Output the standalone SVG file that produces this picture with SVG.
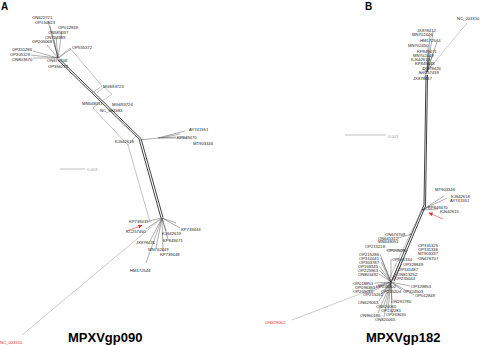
<svg xmlns="http://www.w3.org/2000/svg" width="480" height="345" viewBox="0 0 480 345">
<defs>
<style>
.lbl{font-family:"Liberation Sans",Arial,sans-serif;font-size:4.2px;fill:#222}
.red{fill:#e0302f}
.gray{fill:#999}
.ttl{font-family:"Liberation Sans",Arial,sans-serif;font-size:13px;font-weight:bold;fill:#000}
.pnl{font-family:"Liberation Sans",Arial,sans-serif;font-size:10px;font-weight:bold;fill:#000}
.ray{stroke:#333;stroke-width:0.4;fill:none}
.net{stroke:#888;stroke-width:0.5;fill:none}
.trk{stroke:#111;stroke-width:0.8;fill:none}
.sb{stroke:#999;stroke-width:0.6;fill:none}
.rl{stroke:#999;stroke-width:0.5;fill:none}
.arr{stroke:#e0302f;stroke-width:0.6;fill:none}
</style>
<marker id="ah" viewBox="0 0 10 10" refX="9" refY="5" markerUnits="userSpaceOnUse" markerWidth="4" markerHeight="4" orient="auto"><path d="M0,0L10,5L0,10z" fill="#e0302f"/></marker>
</defs>
<rect width="480" height="345" fill="#fff"/>

<g id="connectors">
<!-- Panel A trunk -->
<polyline class="trk" points="58,60 139,139 161,218"/>
<polyline class="trk" points="59.5,59 141,138.5 163,217.5"/>
<!-- Panel A network boxes -->
<polyline class="net" points="58,58 70,48 102,86 92,93"/>
<polyline class="net" points="97,93 104,87 112,94 104,100"/>
<polyline class="net" points="100,102 93,108 128,145 136,136"/>
<polyline class="net" points="128,145 150,222"/>
<!-- Panel A top fan -->
<path class="ray" d="M58,58L48,21M58,58L50,26M58,58L62,31M58,58L56,36M58,58L54,40M58,58L47,45M58,58L33,51M58,58L31,55M58,58L33,58M58,58L71,49"/>
<!-- Panel A right fan -->
<path class="ray" d="M140,140L158,138L185,131M158,138L176,137M158,138L187,138M162,137.5L180,134"/>
<!-- Panel A bottom fan -->
<path class="ray" d="M162,218L149,221M162,218L146,229M162,218L180,228M162,218L176,223M162,218L166,231M162,218L168,239M162,218L150,241M162,218L156,248M162,218L163,252M162,218L146,263"/>
<path class="rl" d="M162,218L22,335"/>
<line class="arr" x1="127" y1="231" x2="142" y2="225.5" marker-end="url(#ah)"/>
<line class="sb" x1="60" y1="169" x2="85" y2="169"/>

<!-- Panel B trunk -->
<polyline class="trk" points="426,75 424,205 392,280"/>
<polyline class="trk" points="427.5,75 425.5,206 394,281"/>
<polyline class="net" points="423,207 389,279"/>
<path class="rl" d="M428,70L467,23"/>
<!-- Panel B top fan -->
<path class="ray" d="M427,72L433,32M427,72L430,36M427,72L437,42M427,72L428,47M427,72L433,53M427,72L430,56M427,72L428,60M427,72L432,64M427,72L422,68M427,72L420,73M427,72L424,79"/>
<!-- Panel B right fan -->
<path class="ray" d="M422,210L444,196M422,210L447,198M422,210L430,206M422,210L438,209"/>
<line class="arr" x1="443" y1="219" x2="429" y2="213" marker-end="url(#ah)"/>
<line class="sb" x1="345" y1="135" x2="386" y2="135"/>
<!-- Panel B bottom fan -->
<path class="ray" d="M391,282L380,254M391,282L381,258M391,282L381,262M391,282L379,266M391,282L379,270M391,282L379,274M391,282L374,283M391,282L376,287M391,282L373,291M391,282L381,294M391,282L379,301M391,282L391,259M391,282L402,264M391,282L397,269M391,282L396,274M391,282L394,278M391,282L410,286M391,282L402,290M391,282L414,295M391,282L392,300M391,282L385,290M391,282L378,285M391,282L384,305M391,282L388,309M391,282L392,313M391,282L378,313M391,282L384,317M405,250L386,250M412,234L398,238"/>
<path class="rl" d="M391,282L292,320"/>
</g>

<g id="panel-A">
<text class="pnl" x="1" y="10">A</text>
<g id="a-ON622721"><text class="lbl" x="32" y="19">ON622721</text></g>
<g id="a-OP150923"><text class="lbl" x="35" y="24">OP150923</text></g>
<g id="a-OP012849"><text class="lbl" x="58" y="29">OP012849</text></g>
<g id="a-ON585037"><text class="lbl" x="48" y="34">ON585037</text></g>
<g id="a-ON754989"><text class="lbl" x="45" y="38.5">ON754989</text></g>
<g id="a-OP205068"><text class="lbl" x="32" y="43">OP205068</text></g>
<g id="a-OP555372"><text class="lbl" x="72" y="48.5">OP555372</text></g>
<g id="a-OP351286"><text class="lbl" x="12" y="50.5">OP351286</text></g>
<g id="a-OP205129"><text class="lbl" x="10" y="55.5">OP205129</text></g>
<g id="a-ON803670"><text class="lbl" x="12" y="60.5">ON803670</text></g>
<g id="a-ON676708"><text class="lbl" x="47" y="61.5">ON676708</text></g>
<g id="a-OP356279"><text class="lbl" x="48" y="67.5">OP356279</text></g>
<g id="a-MG693723"><text class="lbl" x="103" y="87.5">MG693723</text></g>
<g id="a-MN648051"><text class="lbl" x="82" y="104.5">MN648051</text></g>
<g id="a-MG693724"><text class="lbl" x="112" y="105.5">MG693724</text></g>
<g id="a-NC_063383"><text class="lbl" x="100" y="111.5">NC_063383</text></g>
<g id="a-AY741551"><text class="lbl" x="189" y="130.5">AY741551</text></g>
<g id="a-KP849470"><text class="lbl" x="177" y="138.5">KP849470</text></g>
<g id="a-MT903346"><text class="lbl" x="193" y="144.5">MT903346</text></g>
<g id="a-KJ642618"><text class="lbl" x="115" y="142.5">KJ642618</text></g>
<g id="a-scale"><text class="lbl gray" x="87" y="171">0.001</text></g>
<g id="a-KP739439"><text class="lbl" x="129" y="222.5">KP739439</text></g>
<g id="a-KC257460"><text class="lbl" x="126" y="232.5">KC257460</text></g>
<g id="a-KP739443"><text class="lbl" x="181" y="230.5">KP739443</text></g>
<g id="a-KJ642619"><text class="lbl" x="162" y="234.5">KJ642619</text></g>
<g id="a-JX878426"><text class="lbl" x="136" y="243.5">JX878426</text></g>
<g id="a-KP849471"><text class="lbl" x="163" y="241.5">KP849471</text></g>
<g id="a-MN702449"><text class="lbl" x="148" y="250.5">MN702449</text></g>
<g id="a-KP739448"><text class="lbl" x="160" y="255.5">KP739448</text></g>
<g id="a-HM172544"><text class="lbl" x="130" y="271.5">HM172544</text></g>
<g id="a-NC_003310"><text class="lbl red" x="0" y="343.5">NC_003310</text></g>
<text class="ttl" x="68" y="342">MPXVgp090</text>
</g>

<g id="panel-B">
<text class="pnl" x="365" y="10">B</text>
<g id="b-NC_003310"><text class="lbl" x="457" y="19.5">NC_003310</text></g>
<g id="b-JX878412"><text class="lbl" x="417" y="32">JX878412</text></g>
<g id="b-MN702446"><text class="lbl" x="412" y="36">MN702446</text></g>
<g id="b-HM172544"><text class="lbl" x="420" y="41.5">HM172544</text></g>
<g id="b-MN702450"><text class="lbl" x="408" y="47">MN702450</text></g>
<g id="b-KP849471"><text class="lbl" x="417" y="53">KP849471</text></g>
<g id="b-MN702449"><text class="lbl" x="413" y="56.5">MN702449</text></g>
<g id="b-KJ642619"><text class="lbl" x="411" y="60.5">KJ642619</text></g>
<g id="b-KP849448"><text class="lbl" x="415" y="65">KP849448</text></g>
<g id="b-JX878426"><text class="lbl" x="422" y="69.5">JX878426</text></g>
<g id="b-KC257459"><text class="lbl" x="419" y="74">KC257459</text></g>
<g id="b-JX878417"><text class="lbl" x="413" y="80">JX878417</text></g>
<g id="b-scale"><text class="lbl gray" x="388" y="137.5">0.001</text></g>
<g id="b-MT903346"><text class="lbl" x="435" y="190.5">MT903346</text></g>
<g id="b-KJ642618"><text class="lbl" x="451" y="198">KJ642618</text></g>
<g id="b-AY741551"><text class="lbl" x="450" y="201.5">AY741551</text></g>
<g id="b-KP849470"><text class="lbl" x="428" y="208.5">KP849470</text></g>
<g id="b-KJ642615"><text class="lbl" x="440" y="212.5">KJ642615</text></g>
<g id="b-ON676708"><text class="lbl" x="385" y="235.5">ON676708</text></g>
<g id="b-ON645312"><text class="lbl" x="378" y="239.5">ON645312</text></g>
<g id="b-MN648051"><text class="lbl" x="378" y="243">MN648051</text></g>
<g id="b-OP215218"><text class="lbl" x="365" y="247.5">OP215218</text></g>
<g id="b-OP205090"><text class="lbl" x="387" y="251.5">OP205090</text></g>
<g id="b-OP215286"><text class="lbl" x="359" y="255.5">OP215286</text></g>
<g id="b-OP310041"><text class="lbl" x="359" y="259.5">OP310041</text></g>
<g id="b-OP303787"><text class="lbl" x="359" y="263.5">OP303787</text></g>
<g id="b-OP168345"><text class="lbl" x="358" y="268">OP168345</text></g>
<g id="b-OP225963"><text class="lbl" x="358" y="272">OP225963</text></g>
<g id="b-ON803432"><text class="lbl" x="358" y="276">ON803432</text></g>
<g id="b-OP018853"><text class="lbl" x="353" y="285">OP018853</text></g>
<g id="b-OP096383"><text class="lbl" x="355" y="288.5">OP096383</text></g>
<g id="b-OP205088"><text class="lbl" x="353" y="292.5">OP205088</text></g>
<g id="b-OP215262"><text class="lbl" x="363" y="296">OP215262</text></g>
<g id="b-ON629063"><text class="lbl" x="358" y="303.5">ON629063</text></g>
<g id="b-OP331325"><text class="lbl" x="418" y="246.5">OP331325</text></g>
<g id="b-OP331336"><text class="lbl" x="418" y="250.5">OP331336</text></g>
<g id="b-MT903337"><text class="lbl" x="418" y="255">MT903337</text></g>
<g id="b-ON676707"><text class="lbl" x="418" y="260">ON676707</text></g>
<g id="b-OP531334"><text class="lbl" x="392" y="261">OP531334</text></g>
<g id="b-OP328849"><text class="lbl" x="403" y="266">OP328849</text></g>
<g id="b-OP341487"><text class="lbl" x="398" y="271">OP341487</text></g>
<g id="b-ON813252"><text class="lbl" x="397" y="276">ON813252</text></g>
<g id="b-OP235044"><text class="lbl" x="395" y="280">OP235044</text></g>
<g id="b-OP245302"><text class="lbl" x="376" y="287.5">OP245302</text></g>
<g id="b-OP329853"><text class="lbl" x="411" y="288">OP329853</text></g>
<g id="b-OP215204"><text class="lbl" x="381" y="292.5">OP215204</text></g>
<g id="b-OP324503"><text class="lbl" x="403" y="292.5">OP324503</text></g>
<g id="b-OP012849"><text class="lbl" x="415" y="297">OP012849</text></g>
<g id="b-ON291780"><text class="lbl" x="391" y="302.5">ON291780</text></g>
<g id="b-ON820060"><text class="lbl" x="376" y="308">ON820060</text></g>
<g id="b-OP152281"><text class="lbl" x="381" y="312">OP152281</text></g>
<g id="b-ON960186"><text class="lbl" x="360" y="316.5">ON960186</text></g>
<g id="b-OP263630"><text class="lbl" x="386" y="316">OP263630</text></g>
<g id="b-ON820065"><text class="lbl" x="375" y="320.5">ON820065</text></g>
<g id="b-ON829062"><text class="lbl red" x="265" y="323.5">ON829062</text></g>
<text class="ttl" x="366" y="342">MPXVgp182</text>
</g>
</svg>
